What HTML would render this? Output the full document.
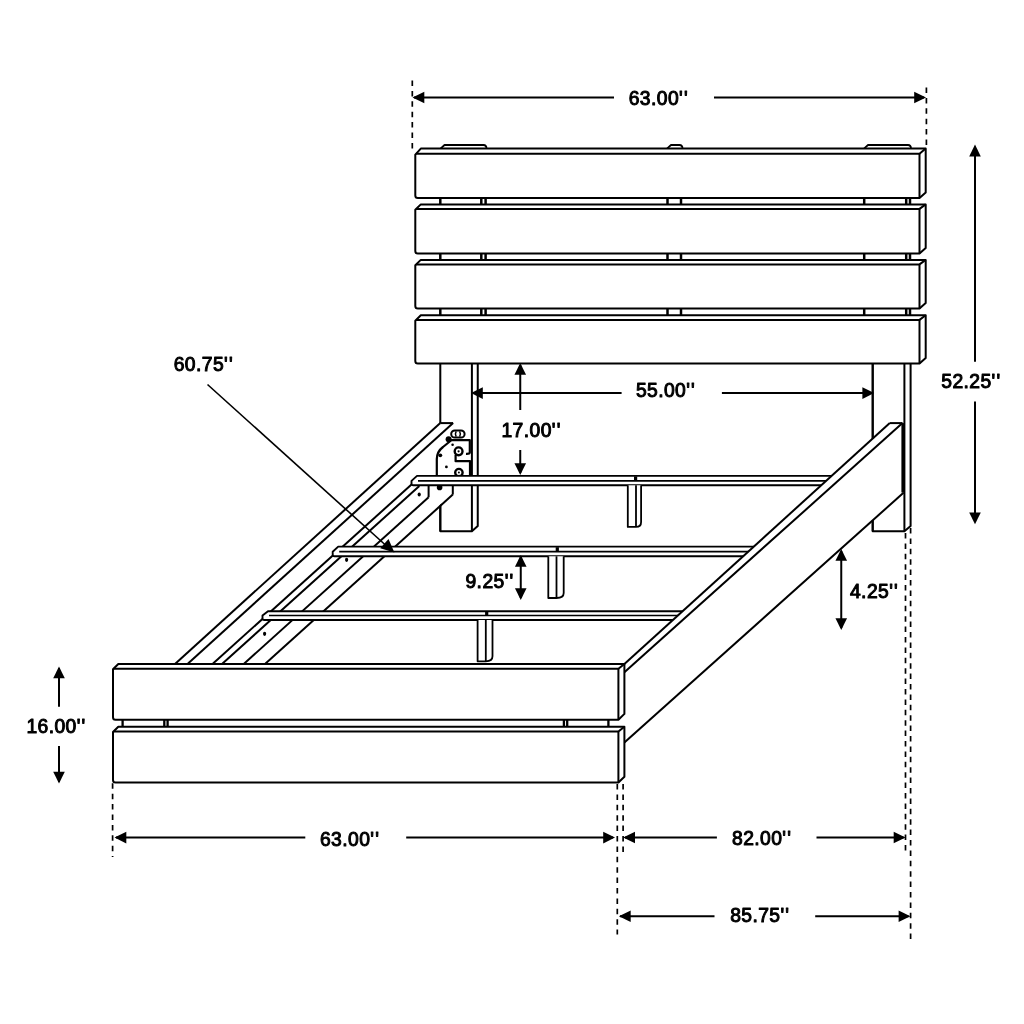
<!DOCTYPE html>
<html><head><meta charset="utf-8"><style>
html,body{margin:0;padding:0;background:#fff;}
svg{display:block;will-change:transform;}
text{font-family:"Liberation Sans",sans-serif;font-weight:normal;fill:#000;stroke:#000;stroke-width:1.0px;letter-spacing:0.4px;}
</style></head><body>
<svg width="1024" height="1024" viewBox="0 0 1024 1024" stroke="#000" stroke-linecap="butt" stroke-linejoin="round">
<rect x="0" y="0" width="1024" height="1024" fill="#fff" stroke="none"/>
<path d="M440.3 363 V531.2 H471.9 L477.75 526 V363" stroke-width="2.0" fill="#fff" />
<line x1="471.9" y1="363" x2="471.9" y2="531.2" stroke-width="2.0" />
<path d="M872.7 363 V531.2 H904.4 L910.6 526 V363" stroke-width="2.0" fill="#fff" />
<line x1="904.4" y1="363" x2="904.4" y2="531.2" stroke-width="2.0" />
<line x1="440.3" y1="198" x2="440.3" y2="205.4" stroke-width="2.5" />
<line x1="481.3" y1="198" x2="481.3" y2="205.4" stroke-width="2.5" />
<line x1="485.6" y1="198" x2="485.6" y2="205.4" stroke-width="2.5" />
<line x1="667.5" y1="198" x2="667.5" y2="205.4" stroke-width="2.5" />
<line x1="681" y1="198" x2="681" y2="205.4" stroke-width="2.5" />
<line x1="864.2" y1="198" x2="864.2" y2="205.4" stroke-width="2.5" />
<line x1="906.2" y1="198" x2="906.2" y2="205.4" stroke-width="2.5" />
<line x1="910" y1="198" x2="910" y2="205.4" stroke-width="2.5" />
<line x1="440.3" y1="253.4" x2="440.3" y2="260.9" stroke-width="2.5" />
<line x1="481.3" y1="253.4" x2="481.3" y2="260.9" stroke-width="2.5" />
<line x1="485.6" y1="253.4" x2="485.6" y2="260.9" stroke-width="2.5" />
<line x1="667.5" y1="253.4" x2="667.5" y2="260.9" stroke-width="2.5" />
<line x1="681" y1="253.4" x2="681" y2="260.9" stroke-width="2.5" />
<line x1="864.2" y1="253.4" x2="864.2" y2="260.9" stroke-width="2.5" />
<line x1="906.2" y1="253.4" x2="906.2" y2="260.9" stroke-width="2.5" />
<line x1="910" y1="253.4" x2="910" y2="260.9" stroke-width="2.5" />
<line x1="440.3" y1="308.6" x2="440.3" y2="316.3" stroke-width="2.5" />
<line x1="481.3" y1="308.6" x2="481.3" y2="316.3" stroke-width="2.5" />
<line x1="485.6" y1="308.6" x2="485.6" y2="316.3" stroke-width="2.5" />
<line x1="667.5" y1="308.6" x2="667.5" y2="316.3" stroke-width="2.5" />
<line x1="681" y1="308.6" x2="681" y2="316.3" stroke-width="2.5" />
<line x1="864.2" y1="308.6" x2="864.2" y2="316.3" stroke-width="2.5" />
<line x1="906.2" y1="308.6" x2="906.2" y2="316.3" stroke-width="2.5" />
<line x1="910" y1="308.6" x2="910" y2="316.3" stroke-width="2.5" />
<path d="M440.5 148.6 L444.5 145 H483.5 Q486.5 145 486.5 148.6" stroke-width="1.8" fill="#fff" />
<path d="M667 148.6 L671 145 H679.5 Q682.5 145 682.5 148.6" stroke-width="1.8" fill="#fff" />
<path d="M864 148.6 L868 145 H908 Q911 145 911 148.6" stroke-width="1.8" fill="#fff" />
<path d="M420.8 148.6 H925.7 V192.5 L919.5 198 H417.8 Q415.3 198 415.3 195.5 V154.6 L420.8 148.6 Z" stroke-width="2.0" fill="#fff" />
<path d="M416.1 153.8 H919.5 L925.7 148.6" stroke-width="2.0" fill="none" />
<line x1="919.5" y1="153.8" x2="919.5" y2="198" stroke-width="2.0" />
<path d="M420.8 204.4 H925.7 V247.9 L919.5 253.4 H417.8 Q415.3 253.4 415.3 250.9 V209.7 L420.8 204.4 Z" stroke-width="2.0" fill="#fff" />
<path d="M416.1 208.9 H919.5 L925.7 204.4" stroke-width="2.0" fill="none" />
<line x1="919.5" y1="208.9" x2="919.5" y2="253.4" stroke-width="2.0" />
<path d="M420.8 259.9 H925.7 V303.1 L919.5 308.6 H417.8 Q415.3 308.6 415.3 306.1 V265.2 L420.8 259.9 Z" stroke-width="2.0" fill="#fff" />
<path d="M416.1 264.4 H919.5 L925.7 259.9" stroke-width="2.0" fill="none" />
<line x1="919.5" y1="264.4" x2="919.5" y2="308.6" stroke-width="2.0" />
<path d="M420.8 315.3 H925.7 V357.9 L919.5 363.4 H417.8 Q415.3 363.4 415.3 360.9 V320.7 L420.8 315.3 Z" stroke-width="2.0" fill="#fff" />
<path d="M416.1 319.9 H919.5 L925.7 315.3" stroke-width="2.0" fill="none" />
<line x1="919.5" y1="319.9" x2="919.5" y2="363.4" stroke-width="2.0" />
<polygon points="175,664 440.3,423.1 453.1,423.1 453,493 265,664" fill="#fff" stroke="none"/>
<line x1="175" y1="664" x2="440.3" y2="423.1" stroke-width="2.0" />
<line x1="187.5" y1="664" x2="453.1" y2="423.1" stroke-width="2.0" />
<line x1="440.3" y1="423.1" x2="453.1" y2="423.1" stroke-width="2.0" />
<line x1="212.5" y1="664" x2="412.61" y2="483.5" stroke-width="2.0" />
<line x1="222" y1="664" x2="419.34" y2="486" stroke-width="2.0" />
<line x1="243.75" y1="664" x2="428.6" y2="497.27" stroke-width="2.0" />
<line x1="428.6" y1="497.27" x2="428.6" y2="485" stroke-width="2.0" />
<line x1="265" y1="664" x2="452.8" y2="494.6" stroke-width="2.0" />
<line x1="452.8" y1="494.6" x2="452.8" y2="485" stroke-width="2.0" />
<line x1="440.3" y1="505.88" x2="440.3" y2="531.2" stroke-width="2.0" />
<path d="M436.8 476 V459 Q437 451.5 443 447 L451 440.5" stroke-width="2.2" fill="none" />
<path d="M451 440.2 H469.8 V452.5 Q469.5 454 466 453.8" stroke-width="2.2" fill="none" />
<path d="M455.6 455 V461.2 H470 V476" stroke-width="2.2" fill="none" />
<circle cx="458.6" cy="451.3" r="3.9" stroke-width="2.4" fill="#fff"/>
<circle cx="458.6" cy="451.3" r="1.1" fill="#000" stroke="none"/>
<circle cx="458.9" cy="472.6" r="3.7" stroke-width="2.4" fill="#fff"/>
<circle cx="458.9" cy="472.6" r="1.0" fill="#000" stroke="none"/>
<rect x="451.2" y="430.4" width="13.4" height="7.2" rx="3.6" stroke-width="2" fill="#fff"/>
<path d="M456.2 431.4 Q454.6 434 456.2 436.6" stroke-width="1.5" fill="none" />
<path d="M459.6 431.4 Q461.2 434 459.6 436.6" stroke-width="1.5" fill="none" />
<circle cx="448.6" cy="439.3" r="3" fill="#000" stroke="none"/>
<circle cx="440.3" cy="455.3" r="1.9" fill="#000" stroke="none"/>
<circle cx="446.4" cy="466.9" r="1.4" fill="#000" stroke="none"/>
<circle cx="452.6" cy="444.8" r="1.3" fill="#000" stroke="none"/>
<circle cx="439.6" cy="487.4" r="2.8" fill="#000" stroke="none"/>
<path d="M417 475.9 H833.63 L823.27 485.3 H413.3 Q411.5 485.3 411.5 483.5 V480.9 L417 475.9 Z" stroke-width="1.9" fill="#fff" />
<line x1="418" y1="480.9" x2="828.12" y2="480.9" stroke-width="1.7" />
<path d="M338.2 546.6 H755.74 L745.05 556.3 H334.5 Q332.7 556.3 332.7 554.5 V551.7 L338.2 546.6 Z" stroke-width="1.9" fill="#fff" />
<line x1="339.2" y1="551.7" x2="750.12" y2="551.7" stroke-width="1.7" />
<path d="M268 611.2 H684.57 L674.87 620 H264.3 Q262.5 620 262.5 618.2 V615.5 L268 611.2 Z" stroke-width="1.9" fill="#fff" />
<line x1="269" y1="615.5" x2="679.83" y2="615.5" stroke-width="1.7" />
<path d="M627.8 485.3 V526.9 H636 Q641.1 526.9 641.1 521.9 V485.3" stroke-width="1.8" fill="#fff" />
<line x1="636" y1="485.3" x2="636" y2="526.9" stroke-width="1.8" />
<path d="M548.3 556.3 V598 H556.5 Q563.7 598 563.7 593 V556.3" stroke-width="1.8" fill="#fff" />
<line x1="556.5" y1="556.3" x2="556.5" y2="598" stroke-width="1.8" />
<path d="M477.6 620 V661.3 H485.8 Q492.5 661.3 492.5 656.3 V620" stroke-width="1.8" fill="#fff" />
<line x1="485.8" y1="620" x2="485.8" y2="661.3" stroke-width="1.8" />
<rect x="634" y="476.4" width="3.2" height="4" fill="#000" stroke="none"/>
<rect x="555.7" y="547.2" width="3.2" height="4" fill="#000" stroke="none"/>
<rect x="485.1" y="611.4" width="3.2" height="4" fill="#000" stroke="none"/>
<ellipse cx="346.6" cy="559.8" rx="1.6" ry="2.1" fill="#000" stroke="none"/>
<ellipse cx="264.6" cy="633.8" rx="1.6" ry="2.1" fill="#000" stroke="none"/>
<ellipse cx="419.2" cy="494.5" rx="1.6" ry="2.1" fill="#000" stroke="none"/>
<polygon points="624.4,664 889.8,423.1 902.5,423.1 903.8,492.5 624.4,742.5" fill="#fff" stroke="none"/>
<line x1="624.4" y1="664" x2="889.8" y2="423.1" stroke-width="2.0" />
<line x1="889.8" y1="423.1" x2="902.5" y2="423.1" stroke-width="2.0" />
<line x1="624.4" y1="672.2" x2="902.5" y2="423.1" stroke-width="2.0" />
<line x1="624.4" y1="742.5" x2="903.8" y2="492.5" stroke-width="2.0" />
<line x1="902.7" y1="423.1" x2="902.7" y2="492.5" stroke-width="2.6" />
<line x1="872.7" y1="363" x2="872.7" y2="438.62" stroke-width="2.0" />
<line x1="872.7" y1="520.33" x2="872.7" y2="531.2" stroke-width="2.0" />
<line x1="122.6" y1="719.7" x2="122.6" y2="727.7" stroke-width="2.3" />
<line x1="164.3" y1="719.7" x2="164.3" y2="727.7" stroke-width="2.3" />
<line x1="167.6" y1="719.7" x2="167.6" y2="727.7" stroke-width="2.3" />
<line x1="563.9" y1="719.7" x2="563.9" y2="727.7" stroke-width="2.3" />
<line x1="567.2" y1="719.7" x2="567.2" y2="727.7" stroke-width="2.3" />
<line x1="608.4" y1="719.7" x2="608.4" y2="727.7" stroke-width="2.3" />
<path d="M118.3 664 H624.4 V713.9 L618.4 719.7 H115.5 Q113 719.7 113 717.2 V669.3 L118.3 664 Z" stroke-width="2.0" fill="#fff" />
<path d="M113.8 668.8 H618.4 L624.4 664" stroke-width="2.0" fill="none" />
<line x1="618.4" y1="668.8" x2="618.4" y2="719.7" stroke-width="2.0" />
<path d="M118.3 726.7 H624.4 V776.7 L618.4 782.5 H115.5 Q113 782.5 113 780 V732 L118.3 726.7 Z" stroke-width="2.0" fill="#fff" />
<path d="M113.8 731.5 H618.4 L624.4 726.7" stroke-width="2.0" fill="none" />
<line x1="618.4" y1="731.5" x2="618.4" y2="782.5" stroke-width="2.0" />
<line x1="412.3" y1="80.5" x2="412.3" y2="148.8" stroke-width="1.7" stroke-dasharray="5.5 4.9"/>
<line x1="926.4" y1="87.5" x2="926.4" y2="146.2" stroke-width="1.7" stroke-dasharray="5.5 4.9"/>
<line x1="112.6" y1="783.3" x2="112.6" y2="857" stroke-width="1.7" stroke-dasharray="5.5 4.9"/>
<line x1="617.3" y1="784" x2="617.3" y2="934.5" stroke-width="1.7" stroke-dasharray="5.5 4.9"/>
<line x1="623.1" y1="784" x2="623.1" y2="853" stroke-width="1.7" stroke-dasharray="5.5 4.9"/>
<line x1="905.5" y1="533" x2="905.5" y2="852.6" stroke-width="1.7" stroke-dasharray="5.5 4.9"/>
<line x1="910.6" y1="528" x2="910.6" y2="940.5" stroke-width="1.7" stroke-dasharray="5.5 4.9"/>
<line x1="414" y1="97.5" x2="614" y2="97.5" stroke-width="2.0" />
<line x1="714" y1="97.5" x2="924" y2="97.5" stroke-width="2.0" />
<polygon points="412.5,97.5 424.3,91.7 424.3,103.3" stroke="none" fill="#000"/>
<polygon points="926,97.5 914.2,103.3 914.2,91.7" stroke="none" fill="#000"/>
<text x="628.75" y="105.4" font-size="19.3">63.00<tspan letter-spacing="1.2">'</tspan>'</text>
<line x1="975" y1="147" x2="975" y2="361.8" stroke-width="2.0" />
<line x1="975" y1="401.4" x2="975" y2="522" stroke-width="2.0" />
<polygon points="975,144.6 980.8,156.4 969.2,156.4" stroke="none" fill="#000"/>
<polygon points="975,524.3 969.2,512.5 980.8,512.5" stroke="none" fill="#000"/>
<text x="941.3" y="388.3" font-size="19.3">52.25<tspan letter-spacing="1.2">'</tspan>'</text>
<line x1="473" y1="393.1" x2="621.6" y2="393.1" stroke-width="2.0" />
<line x1="721.9" y1="393.1" x2="872" y2="393.1" stroke-width="2.0" />
<polygon points="471,393.1 482.8,387.3 482.8,398.9" stroke="none" fill="#000"/>
<polygon points="874.2,393.1 862.4,398.9 862.4,387.3" stroke="none" fill="#000"/>
<text x="635.9" y="396.9" font-size="19.3">55.00<tspan letter-spacing="1.2">'</tspan>'</text>
<line x1="520.25" y1="365" x2="520.25" y2="410" stroke-width="2.0" />
<line x1="520.25" y1="450" x2="520.25" y2="473" stroke-width="2.0" />
<polygon points="520.25,363 526.05,374.8 514.45,374.8" stroke="none" fill="#000"/>
<polygon points="520.25,475 514.45,463.2 526.05,463.2" stroke="none" fill="#000"/>
<text x="501.5" y="436.9" font-size="19.3">17.00<tspan letter-spacing="1.2">'</tspan>'</text>
<line x1="520.75" y1="557" x2="520.75" y2="598" stroke-width="2.0" />
<polygon points="520.75,555 526.55,566.8 514.95,566.8" stroke="none" fill="#000"/>
<polygon points="520.75,600 514.95,588.2 526.55,588.2" stroke="none" fill="#000"/>
<text x="465.5" y="587.8" font-size="19.3">9.25<tspan letter-spacing="1.2">'</tspan>'</text>
<line x1="841.25" y1="551" x2="841.25" y2="628" stroke-width="2.0" />
<polygon points="841.25,548.9 847.05,560.7 835.45,560.7" stroke="none" fill="#000"/>
<polygon points="841.25,630 835.45,618.2 847.05,618.2" stroke="none" fill="#000"/>
<text x="850" y="598.1" font-size="19.3">4.25<tspan letter-spacing="1.2">'</tspan>'</text>
<line x1="59" y1="668" x2="59" y2="706.8" stroke-width="2.0" />
<line x1="59" y1="746" x2="59" y2="782" stroke-width="2.0" />
<polygon points="59,666.4 64.8,678.2 53.2,678.2" stroke="none" fill="#000"/>
<polygon points="59,783.6 53.2,771.8 64.8,771.8" stroke="none" fill="#000"/>
<text x="26.4" y="733.4" font-size="19.3">16.00<tspan letter-spacing="1.2">'</tspan>'</text>
<line x1="116" y1="837.6" x2="305.3" y2="837.6" stroke-width="2.0" />
<line x1="406.2" y1="837.6" x2="613" y2="837.6" stroke-width="2.0" />
<polygon points="114.5,837.6 126.3,831.8 126.3,843.4" stroke="none" fill="#000"/>
<polygon points="615,837.6 603.2,843.4 603.2,831.8" stroke="none" fill="#000"/>
<text x="320" y="845.9" font-size="19.3">63.00<tspan letter-spacing="1.2">'</tspan>'</text>
<line x1="625" y1="837.5" x2="716.9" y2="837.5" stroke-width="2.0" />
<line x1="816.5" y1="837.5" x2="903.5" y2="837.5" stroke-width="2.0" />
<polygon points="623.2,837.5 635,831.7 635,843.3" stroke="none" fill="#000"/>
<polygon points="905.5,837.5 893.7,843.3 893.7,831.7" stroke="none" fill="#000"/>
<text x="732.1" y="845.4" font-size="19.3">82.00<tspan letter-spacing="1.2">'</tspan>'</text>
<line x1="620" y1="916.2" x2="714.5" y2="916.2" stroke-width="2.0" />
<line x1="815.2" y1="916.2" x2="908.5" y2="916.2" stroke-width="2.0" />
<polygon points="618.9,916.2 630.7,910.4 630.7,922" stroke="none" fill="#000"/>
<polygon points="910.4,916.2 898.6,922 898.6,910.4" stroke="none" fill="#000"/>
<text x="730.2" y="922.4" font-size="19.3">85.75<tspan letter-spacing="1.2">'</tspan>'</text>
<line x1="207.5" y1="384.5" x2="386" y2="545.5" stroke-width="1.6" />
<polygon points="394.4,552.6 380.22,548.18 388.51,538.96" stroke="none" fill="#000"/>
<text x="173.75" y="371.1" font-size="19.3">60.75<tspan letter-spacing="1.2">'</tspan>'</text>
</svg>
</body></html>
